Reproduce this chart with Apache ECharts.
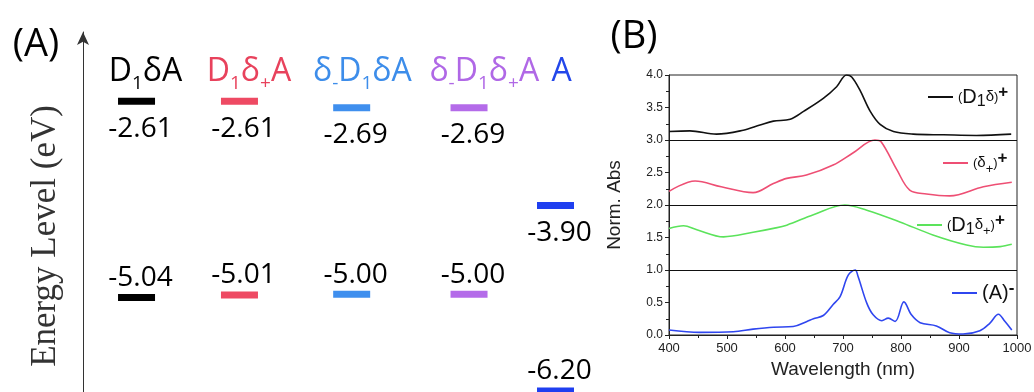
<!DOCTYPE html>
<html><head><meta charset="utf-8">
<script src="https://cdn.jsdelivr.net/npm/echarts@6/dist/echarts.min.js"></script>
<style>html,body{margin:0;padding:0;background:#fff}#c{width:1034px;height:392px}</style>
</head><body><div id="c"></div>
<script>
// ---------- Panel A data ----------
const molecules  = ['D1δA', 'D1δ+A', 'δ-D1δA', 'δ-D1δ+A', 'A'];
const lumoLevels = [-2.61, -2.61, -2.69, -2.69, -3.90];
const homoLevels = [-5.04, -5.01, -5.00, -5.00, -6.20];

// ---------- Panel B data ----------
const seriesNames = ['(D1δ)+', '(δ+)+', '(D1δ+)+', '(A)-'];
const waveD1d = [400, 436, 482, 528, 557, 580, 609, 632, 666, 689, 706, 715, 729, 747, 764, 787, 821, 873, 930, 990];
const absD1d  = [3.13, 3.14, 3.09, 3.15, 3.23, 3.29, 3.32, 3.44, 3.64, 3.82, 4.00, 3.97, 3.77, 3.44, 3.24, 3.13, 3.09, 3.08, 3.07, 3.09];
const waveDp  = [400, 445, 490, 545, 580, 603, 637, 683, 717, 755, 766, 793, 815, 844, 884, 942, 991];
const absDp   = [2.21, 2.37, 2.28, 2.19, 2.33, 2.41, 2.46, 2.615, 2.80, 3.00, 2.97, 2.54, 2.23, 2.17, 2.14, 2.28, 2.35];
const waveD1dp = [400, 425, 448, 494, 545, 580, 603, 649, 703, 741, 798, 855, 913, 942, 971, 991];
const absD1dp  = [1.64, 1.68, 1.62, 1.51, 1.58, 1.64, 1.69, 1.85, 2.00, 1.92, 1.74, 1.54, 1.385, 1.35, 1.36, 1.395];
const waveA = [400, 453, 511, 545, 580, 614, 637, 649, 666, 683, 695, 709, 721, 726, 741, 752, 767, 778, 790, 805, 818, 833, 861, 884, 907, 936, 953, 968, 979, 991];
const absA  = [0.077, 0.04, 0.05, 0.09, 0.12, 0.13, 0.205, 0.25, 0.30, 0.47, 0.59, 0.92, 1.00, 0.90, 0.49, 0.31, 0.22, 0.26, 0.21, 0.51, 0.31, 0.19, 0.14, 0.035, 0.015, 0.066, 0.18, 0.32, 0.21, 0.077];
const separators = [1, 2, 3];

// ---------- layout / style (not data) ----------
const columnPos = [1.02, 2.02, 3.11, 4.25, 5.09];
const headerPos = [1.107, 2.112, 3.214, 4.398, 5.15];
const levelColors  = ['#000000', '#ee4a63', '#3f8fee', '#b46be9', '#1f3ff0'];
const headerColors = ['#000000', '#e8425c', '#3d8dea', '#b068e6', '#2347ea'];
const lineColors = ['#111111', '#ee4f74', '#5be35b', '#2f46ef'];

function headerIndex(v) {
  let best = 0;
  headerPos.forEach((p, i) => { if (Math.abs(p - v) < Math.abs(headerPos[best] - v)) best = i; });
  return best;
}
function headerRich(v) {
  const i = headerIndex(v);
  const name = String(molecules[i]);
  let out = '';
  for (let k = 0; k < name.length; k++) {
    const ch = name.charAt(k);
    const isSub = /[0-9+\-]/.test(ch);
    out += '{' + (isSub ? 's' : 'm') + i + '|' + ch + '}';
  }
  return out;
}
const headerRichStyles = {};
headerColors.forEach((c, i) => {
  headerRichStyles['m' + i] = {fontSize: 32, fontFamily: 'Open Sans', color: c, lineHeight: 42};
  headerRichStyles['s' + i] = {fontSize: 19, fontFamily: 'Open Sans', color: c, verticalAlign: 'bottom'};
});

const legendRich = {
  p:   {fontSize: 13, lineHeight: 26, color: '#111', fontFamily: 'Liberation Sans'},
  b:   {fontSize: 20, lineHeight: 26, color: '#111', fontFamily: 'Liberation Sans'},
  d:   {fontSize: 15, lineHeight: 26, color: '#111', fontFamily: 'Liberation Sans'},
  sub: {fontSize: 16, color: '#111', fontFamily: 'Liberation Sans', verticalAlign: 'bottom'},
  sub2:{fontSize: 13, color: '#111', fontFamily: 'Liberation Sans', verticalAlign: 'bottom'},
  sup: {fontSize: 17, fontWeight: 'bold', color: '#111', fontFamily: 'Liberation Sans', verticalAlign: 'top'}
};
const legendText = {
  '(D1δ)+':  '{p|(}{b|D}{sub|1}{d|δ}{p|)}{sup|+}',
  '(δ+)+':   '{p|(}{d|δ}{sub2|+}{p|)}{sup|+}',
  '(D1δ+)+': '{p|(}{b|D}{sub|1}{d|δ}{sub2|+}{p|)}{sup|+}',
  '(A)-':    '{b|(A)}{sup|-}'
};
const legendPlace = [[928, 84], [943, 150], [917, 212], [952, 280]];

const specData = [[waveD1d, absD1d], [waveDp, absDp], [waveD1dp, absD1dp], [waveA, absA]];

const chart = echarts.init(document.getElementById('c'), null, {renderer: 'canvas'});
const lineSeries = seriesNames.map((n, i) => {
  const s = {
    name: n, type: 'line', xAxisIndex: 1, yAxisIndex: 1, showSymbol: false, smooth: 0.35,
    color: lineColors[i], itemStyle: {color: lineColors[i]},
    lineStyle: {color: lineColors[i], width: 1.6},
    data: specData[i][0].map((w, k) => [w, specData[i][1][k]])
  };
  if (i === 0) {
    s.markLine = {silent: true, symbol: 'none', label: {show: false},
      lineStyle: {color: '#111', width: 1, type: 'solid'},
      data: separators.map(v => ({yAxis: v}))};
  }
  return s;
});
const levelLabel = {fontSize: 28, fontFamily: 'Open Sans', color: '#000', opacity: 1};
const option = {
  animation: false,
  backgroundColor: '#ffffff',
  grid: [
    {left: 83, top: 32, width: 525, height: 363, containLabel: false, outerBoundsMode: 'none'},
    {left: 669, top: 75, width: 348, height: 260, containLabel: false, outerBoundsMode: 'none',
     show: true, borderColor: '#222', borderWidth: 1, backgroundColor: 'transparent'}
  ],
  xAxis: [
    {gridIndex: 0, type: 'value', min: 0.5, max: 5.6, position: 'top',
     axisLine: {show: false}, axisTick: {show: false}, splitLine: {show: false},
     axisLabel: {show: true, inside: true, margin: 19, customValues: headerPos,
       formatter: v => headerRich(v), rich: headerRichStyles}},
    {gridIndex: 1, type: 'value', min: 400, max: 1000, interval: 100,
     axisLine: {show: true, lineStyle: {color: '#222'}},
     axisTick: {show: true, inside: false, length: 4, lineStyle: {color: '#222'}},
     minorTick: {show: true, splitNumber: 2, length: 3, lineStyle: {color: '#222'}},
     splitLine: {show: false},
     axisLabel: {fontSize: 13, color: '#222', fontFamily: 'Liberation Sans', margin: 7,
       formatter: v => String(v)},
     name: 'Wavelength (nm)', nameLocation: 'middle', nameGap: 22,
     nameTextStyle: {fontSize: 19, color: '#222', fontFamily: 'Liberation Sans'}}
  ],
  yAxis: [
    {gridIndex: 0, type: 'value', min: -6.25, max: -1.75,
     axisLine: {show: true, onZero: false, symbol: ['none', 'arrow'], symbolSize: [9, 13],
       lineStyle: {color: '#333', width: 1}},
     axisTick: {show: false}, axisLabel: {show: false}, splitLine: {show: false}},
    {gridIndex: 1, type: 'value', min: 0, max: 4, interval: 0.5,
     axisLine: {show: true, lineStyle: {color: '#222'}},
     axisTick: {show: true, inside: false, length: 4, lineStyle: {color: '#222'}},
     minorTick: {show: true, splitNumber: 2, length: 3, lineStyle: {color: '#222'}},
     splitLine: {show: false},
     axisLabel: {fontSize: 12, color: '#222', fontFamily: 'Liberation Sans', margin: 6,
       formatter: v => v.toFixed(1)},
     name: 'Norm. Abs', nameLocation: 'middle', nameGap: 45,
     nameTextStyle: {fontSize: 19, color: '#222', fontFamily: 'Liberation Sans'}}
  ],
  legend: seriesNames.map((n, i) => ({
    data: [n], left: legendPlace[i][0], top: legendPlace[i][1], padding: 0,
    icon: 'rect', itemWidth: 25, itemHeight: 2, selectedMode: false,
    formatter: name => legendText[name],
    textStyle: {color: '#111', fontFamily: 'Liberation Sans', rich: legendRich}
  })),
  graphic: [
    {type: 'text', x: 36, y: 45, style: {text: '(A)', font: '38px "Open Sans"', fill: '#000', align: 'center', verticalAlign: 'middle'}},
    {type: 'text', x: 634, y: 37, style: {text: '(B)', font: '38px "Open Sans"', fill: '#000', align: 'center', verticalAlign: 'middle'}},
    {type: 'text', x: 46, y: 236, rotation: Math.PI / 2,
     style: {text: 'Energy Level (eV)', font: '35px "Liberation Serif"', fill: '#333', align: 'center', verticalAlign: 'middle'}}
  ],
  series: [
    {name: 'LUMO', type: 'scatter', xAxisIndex: 0, yAxisIndex: 0, symbol: 'rect', symbolSize: [37, 7], silent: true,
     itemStyle: {opacity: 1},
     data: lumoLevels.map((e, i) => ({value: [columnPos[i], e], itemStyle: {color: levelColors[i], opacity: 1}})),
     label: Object.assign({show: true, position: 'bottom', distance: 10, offset: [4, 0],
       formatter: p => p.value[1].toFixed(2)}, levelLabel)},
    {name: 'HOMO', type: 'scatter', xAxisIndex: 0, yAxisIndex: 0, symbol: 'rect', symbolSize: [37, 7], silent: true,
     itemStyle: {opacity: 1},
     data: homoLevels.map((e, i) => ({value: [columnPos[i], e], itemStyle: {color: levelColors[i], opacity: 1}})),
     label: Object.assign({show: true, position: 'top', distance: 2, offset: [4, 0],
       formatter: p => p.value[1].toFixed(2)}, levelLabel)}
  ].concat(lineSeries)
};
chart.setOption(option);
</script></body></html>
